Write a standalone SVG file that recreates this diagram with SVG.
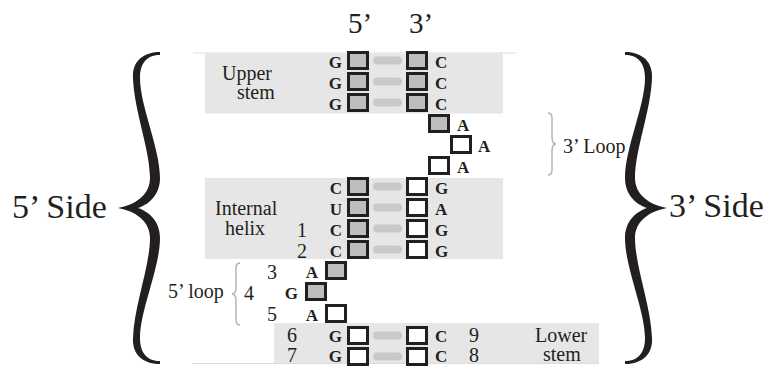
<svg xmlns="http://www.w3.org/2000/svg" width="773" height="366" viewBox="0 0 773 366">
<style>
.t{font-family:"Liberation Serif","Times New Roman",serif;fill:#231f20}
.lab{font-size:20px}
.hd{font-size:29px}
.side{font-size:34px}
.nt{font-size:17px;font-weight:bold}
.e{text-anchor:end}
.sq{stroke:#231f20;stroke-width:3}
.g{fill:#bdbdbf}
.w{fill:#fff}
.bar{fill:#c9c9c9}
.band{fill:#e6e6e6}
.rule{stroke:#dcdcdc;stroke-width:1}
.sb{fill:none;stroke:#b5b5b5;stroke-width:1.5}
.brace{fill:#231f20}
</style>
<rect width="773" height="366" fill="#fff"/>
<line class="rule" x1="193" y1="53" x2="516" y2="53"/>
<line class="rule" x1="192" y1="363.5" x2="599" y2="363.5"/>
<g id="bands">
<rect class="band" x="205" y="53.5" width="298" height="60"/>
<rect class="band" x="205" y="178" width="298" height="81"/>
<rect class="band" x="274" y="323" width="325" height="40"/>
</g>
<g id="headers">
<text class="t hd" x="348" y="33">5’</text>
<text class="t hd" x="409" y="33">3’</text>
</g>
<g id="region-labels">
<text class="t lab" x="222" y="80">Upper</text>
<text class="t lab" x="237" y="99">stem</text>
<text class="t lab" x="215" y="215">Internal</text>
<text class="t lab" x="225" y="235">helix</text>
<text class="t lab" x="535" y="342">Lower</text>
<text class="t lab" x="543" y="361">stem</text>
<text class="t lab" x="563" y="153">3’ Loop</text>
<text class="t lab" x="168" y="298">5’ loop</text>
</g>
<g id="numbers" class="t lab">
<text x="297" y="237">1</text>
<text x="297" y="258">2</text>
<text x="267" y="279">3</text>
<text x="244" y="300">4</text>
<text x="267" y="321">5</text>
<text x="287" y="342">6</text>
<text x="287" y="362">7</text>
<text x="469" y="342">9</text>
<text x="469" y="362">8</text>
</g>
<g id="connectors">
<rect class="bar" x="373" y="56.5" width="29" height="8" rx="4"/>
<rect class="bar" x="373" y="77.5" width="29" height="8" rx="4"/>
<rect class="bar" x="373" y="98.5" width="29" height="8" rx="4"/>
<rect class="bar" x="373" y="182.5" width="29" height="8" rx="4"/>
<rect class="bar" x="373" y="203.5" width="29" height="8" rx="4"/>
<rect class="bar" x="373" y="224.5" width="29" height="8" rx="4"/>
<rect class="bar" x="373" y="245.5" width="29" height="8" rx="4"/>
<rect class="bar" x="373" y="331.5" width="29" height="8" rx="4"/>
<rect class="bar" x="373" y="352.5" width="29" height="8" rx="4"/>
</g>
<g id="nt-u5-1"><rect class="sq g" x="348.5" y="52.5" width="19" height="16"/><text class="t nt e" x="342" y="68">G</text></g>
<g id="nt-u5-2"><rect class="sq g" x="348.5" y="73.5" width="19" height="16"/><text class="t nt e" x="342" y="89">G</text></g>
<g id="nt-u5-3"><rect class="sq g" x="348.5" y="94.5" width="19" height="16"/><text class="t nt e" x="342" y="110">G</text></g>
<g id="nt-u3-1"><rect class="sq g" x="407.5" y="52.5" width="19" height="16"/><text class="t nt" x="435" y="68">C</text></g>
<g id="nt-u3-2"><rect class="sq g" x="407.5" y="73.5" width="19" height="16"/><text class="t nt" x="435" y="89">C</text></g>
<g id="nt-u3-3"><rect class="sq g" x="407.5" y="94.5" width="19" height="16"/><text class="t nt" x="435" y="110">C</text></g>
<g id="nt-l3-1"><rect class="sq g" x="429.5" y="115.5" width="19" height="16"/><text class="t nt" x="457" y="131">A</text></g>
<g id="nt-l3-2"><rect class="sq w" x="451.5" y="136.5" width="19" height="16"/><text class="t nt" x="478" y="152">A</text></g>
<g id="nt-l3-3"><rect class="sq w" x="429.5" y="157.5" width="19" height="16"/><text class="t nt" x="457" y="173">A</text></g>
<g id="nt-i5-1"><rect class="sq g" x="348.5" y="178.5" width="19" height="16"/><text class="t nt e" x="342" y="194">C</text></g>
<g id="nt-i5-2"><rect class="sq g" x="348.5" y="199.5" width="19" height="16"/><text class="t nt e" x="342" y="215">U</text></g>
<g id="nt-i5-3"><rect class="sq g" x="348.5" y="220.5" width="19" height="16"/><text class="t nt e" x="342" y="236">C</text></g>
<g id="nt-i5-4"><rect class="sq g" x="348.5" y="241.5" width="19" height="16"/><text class="t nt e" x="342" y="257">C</text></g>
<g id="nt-i3-1"><rect class="sq w" x="407.5" y="178.5" width="19" height="16"/><text class="t nt" x="435" y="194">G</text></g>
<g id="nt-i3-2"><rect class="sq w" x="407.5" y="199.5" width="19" height="16"/><text class="t nt" x="435" y="215">A</text></g>
<g id="nt-i3-3"><rect class="sq w" x="407.5" y="220.5" width="19" height="16"/><text class="t nt" x="435" y="236">G</text></g>
<g id="nt-i3-4"><rect class="sq w" x="407.5" y="241.5" width="19" height="16"/><text class="t nt" x="435" y="257">G</text></g>
<g id="nt-l5-3"><rect class="sq g" x="326.5" y="262.5" width="19" height="16"/><text class="t nt e" x="318" y="278">A</text></g>
<g id="nt-l5-4"><rect class="sq g" x="306.5" y="283.5" width="19" height="16"/><text class="t nt e" x="298" y="299">G</text></g>
<g id="nt-l5-5"><rect class="sq w" x="326.5" y="305.5" width="19" height="16"/><text class="t nt e" x="318" y="321">A</text></g>
<g id="nt-lo5-6"><rect class="sq w" x="348.5" y="327.5" width="19" height="16"/><text class="t nt e" x="342" y="342">G</text></g>
<g id="nt-lo5-7"><rect class="sq w" x="348.5" y="348.5" width="19" height="16"/><text class="t nt e" x="342" y="362">G</text></g>
<g id="nt-lo3-9"><rect class="sq w" x="407.5" y="327.5" width="19" height="16"/><text class="t nt" x="435" y="342">C</text></g>
<g id="nt-lo3-8"><rect class="sq w" x="407.5" y="348.5" width="19" height="16"/><text class="t nt" x="435" y="362">C</text></g>
<g id="small-braces">
<path class="sb" d="M548,113 C553,113 552,118 552,125 L552,137 C552,142 553,144 556,144 C553,144 552,146 552,151 L552,163 C552,170 553,175 548,175"/>
<path class="sb" d="M240,263 C235,263 236,268 236,275 L236,287 C236,292 235,294 232,294 C235,294 236,296 236,301 L236,313 C236,320 235,325 240,325"/>
</g>
<g id="side-5">
<path class="brace" d="M160,52 C145,52 132,60 133,78 C134,110 150,150 150,178 C150,195 135,205 118,208 C135,211 150,221 150,238 C150,266 134,306 133,338 C132,356 145,364 160,364 L160,361 C148,361 140,354 140,338 C140,310 160,268 160,238 C160,222 150,212 138,208 C150,204 160,194 160,178 C160,148 140,106 140,78 C140,62 148,55 160,55 Z"/>
<text class="t side" x="12" y="218">5’ Side</text>
</g>
<g id="side-3">
<path class="brace" transform="translate(785,0) scale(-1,1)" d="M160,52 C145,52 132,60 133,78 C134,110 150,150 150,178 C150,195 135,205 118,208 C135,211 150,221 150,238 C150,266 134,306 133,338 C132,356 145,364 160,364 L160,361 C148,361 140,354 140,338 C140,310 160,268 160,238 C160,222 150,212 138,208 C150,204 160,194 160,178 C160,148 140,106 140,78 C140,62 148,55 160,55 Z"/>
<text class="t side" x="669" y="217">3’ Side</text>
</g>
</svg>
